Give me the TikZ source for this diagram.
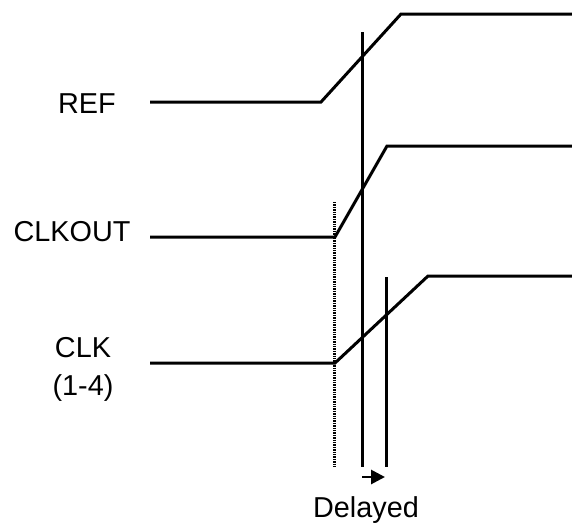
\documentclass[tikz,border=0pt]{standalone}
\usepackage{fontspec}
\setmainfont{Liberation Sans}
\usetikzlibrary{arrows.meta}
\begin{document}
\begin{tikzpicture}[x=1pt,y=-1pt,
  wave/.style={line width=3pt,line join=miter},
  marker/.style={line width=3pt},
  dotline/.style={line width=2.2pt,dash pattern=on 1.4pt off 1pt},
  lbl/.style={font=\fontsize{28.8}{38.5}\selectfont,inner sep=0pt,anchor=base,align=center},
  delayarrow/.style={line width=2.8pt,-{Triangle[length=14pt,width=14pt]}}]
\useasboundingbox (0,0) rectangle (572,525);
% labels
\node[lbl] (ref) at (87,113) {REF};
\node[lbl] (clkout) at (72,241) {CLKOUT};
\node[lbl,anchor=north] (clk) at (83,337) {CLK\\(1-4)};
\node[lbl] (delayed) at (366,517) {Delayed};
% waveform coordinates
\coordinate (r0) at (150,102);
\coordinate (r1) at (321,102);
\coordinate (r2) at (401,14);
\coordinate (r3) at (572,14);
\coordinate (o0) at (150,237);
\coordinate (o1) at (335,237);
\coordinate (o2) at (387,146);
\coordinate (o3) at (572,146);
\coordinate (c0) at (150,363);
\coordinate (c1) at (335,363);
\coordinate (c2) at (428,276);
\coordinate (c3) at (572,276);
% markers
\coordinate (v1t) at (362,32);
\coordinate (v1b) at (362,467);
\coordinate (v2t) at (386.5,277);
\coordinate (v2b) at (386.5,467);
\coordinate (dt) at (334.5,202);
\coordinate (db) at (334.5,467);
\coordinate (a0) at (362,477);
\coordinate (a1) at (385,477);
% drawing
\draw[wave] (r0) -- (r1) -- (r2) -- (r3);
\draw[wave] (o0) -- (o1) -- (o2) -- (o3);
\draw[wave] (c0) -- (c1) -- (c2) -- (c3);
\draw[marker] (v1t) -- (v1b);
\draw[marker] (v2t) -- (v2b);
\draw[dotline] (dt) -- (db);
\draw[delayarrow] (a0) -- (a1);
\end{tikzpicture}
\end{document}
